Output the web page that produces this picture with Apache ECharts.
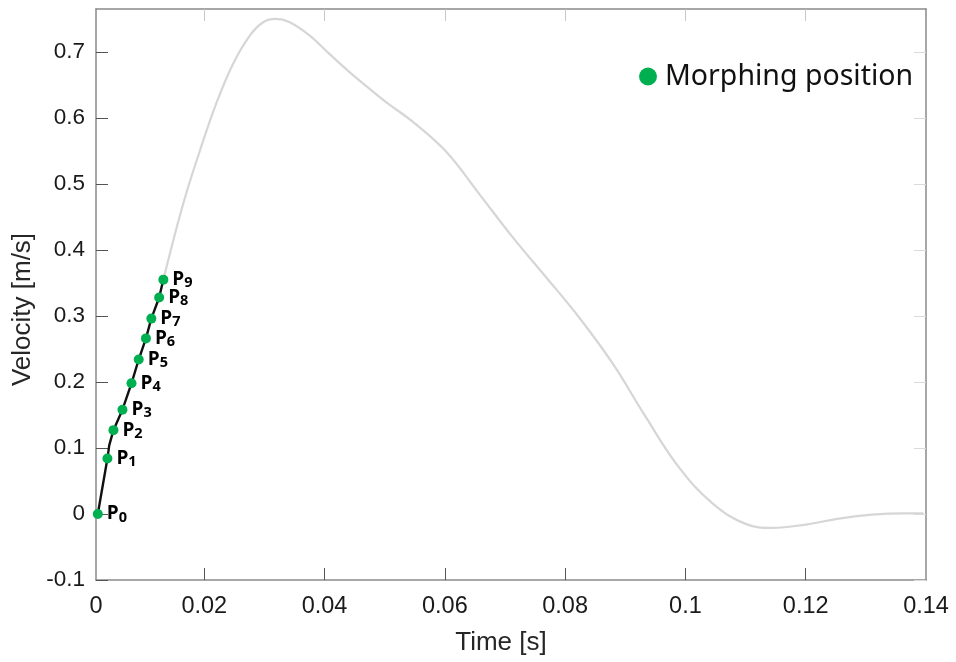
<!DOCTYPE html>
<html>
<head>
<meta charset="utf-8">
<script src="https://cdn.jsdelivr.net/npm/echarts@6/dist/echarts.min.js"></script>
<style>html,body{margin:0;padding:0;background:#fff;}#c{width:956px;height:662px;}</style>
</head>
<body>
<div id="c"></div>
<script>
// Morphing positions P0..P9 (time [s], velocity [m/s])
const pointNames = ['0','1','2','3','4','5','6','7','8','9'];
const pointTime = [0.0023, 0.0039, 0.0049, 0.0064, 0.0079, 0.0091, 0.0103, 0.0112, 0.0125, 0.0132];
const pointVel  = [0.000, 0.084, 0.127, 0.158, 0.198, 0.234, 0.266, 0.296, 0.328, 0.355];

// Black segment (start of motion up to P9)
const blackTime = [0.0023, 0.0039, 0.0042, 0.0049, 0.0064, 0.0079, 0.0091, 0.0103, 0.0112, 0.0125, 0.0132];
const blackVel  = [0.000, 0.084, 0.104, 0.127, 0.158, 0.198, 0.234, 0.266, 0.296, 0.328, 0.355];

// Full velocity profile after P9 (grey)
const greyTime = [0.0132, 0.0165, 0.0193, 0.0220, 0.0248, 0.0276, 0.0298, 0.0319, 0.0342, 0.0375,
  0.0408, 0.0442, 0.0475, 0.0508, 0.0547, 0.0602, 0.0657, 0.0713, 0.0768, 0.0823, 0.0879, 0.0934,
  0.0989, 0.1045, 0.1100, 0.1144, 0.1200, 0.1255, 0.1310, 0.1365, 0.1396];
const greyVel  = [0.355, 0.470, 0.551, 0.622, 0.682, 0.725, 0.745, 0.750, 0.745, 0.725,
  0.697, 0.669, 0.644, 0.620, 0.594, 0.549, 0.485, 0.419, 0.359, 0.298, 0.228, 0.147,
  0.071, 0.016, -0.015, -0.021, -0.016, -0.007, -0.001, 0.001, 0.001];

const xLabels = [0.002, 0.02, 0.04, 0.06, 0.08, 0.10, 0.12, 0.14];
const xTicks = [0.02, 0.04, 0.06, 0.08, 0.10, 0.12];
const yTicks = [-0.1, 0, 0.1, 0.2, 0.3, 0.4, 0.5, 0.6, 0.7];

const zip = (a, b) => a.map((v, i) => [v, b[i]]);
const fmt = v => String(+(+v).toFixed(3));

const chart = echarts.init(document.getElementById('c'), null, {renderer: 'canvas'});
const labelFont = 'Liberation Sans, Arial, sans-serif';
const frameColor = '#8a8a8a';

chart.setOption({
  animation: false,
  backgroundColor: '#ffffff',
  grid: {left: 96, right: 30, top: 9, bottom: 82, containLabel: false},
  legend: {
    data: ['Morphing position'],
    left: 634, top: 57,
    icon: 'circle', itemWidth: 18, itemHeight: 18, itemGap: 6,
    textStyle: {fontFamily: 'Noto Sans, Open Sans, sans-serif', fontSize: 28.5, color: '#111', padding: [0, 0, 0, 3]}
  },
  xAxis: [{
    type: 'value', min: 0.002, max: 0.14, position: 'bottom',
    name: 'Time [s]', nameLocation: 'middle', nameGap: 50,
    nameTextStyle: {fontFamily: labelFont, fontSize: 26, color: '#262626', padding: [0, 20, 0, 0]},
    axisLine: {show: true, onZero: false, lineStyle: {color: frameColor, width: 1.5}},
    axisTick: {show: true, inside: true, length: 12, customValues: xTicks, lineStyle: {color: '#555'}},
    axisLabel: {show: true, customValues: xLabels, margin: 15, fontFamily: labelFont, fontSize: 23.5, color: '#1a1a1a',
      formatter: v => (v < 0.01 ? '0' : fmt(v))},
    splitLine: {show: false}
  }, {
    type: 'value', min: 0.002, max: 0.14, position: 'top',
    axisLine: {show: true, onZero: false, lineStyle: {color: frameColor, width: 1.5}},
    axisTick: {show: true, inside: true, length: 12, customValues: xTicks, lineStyle: {color: '#c8c8c8'}},
    axisLabel: {show: false},
    splitLine: {show: false}
  }],
  yAxis: [{
    type: 'value', min: -0.1, max: 0.765, position: 'left',
    name: 'Velocity [m/s]', nameLocation: 'middle', nameGap: 59, nameRotate: 90,
    nameTextStyle: {fontFamily: labelFont, fontSize: 26, color: '#262626', padding: [0, 30, 0, 0]},
    axisLine: {show: true, onZero: false, lineStyle: {color: frameColor, width: 1.5}},
    axisTick: {show: true, inside: true, length: 12, customValues: yTicks, lineStyle: {color: '#555'}},
    axisLabel: {show: true, customValues: yTicks, margin: 11, fontFamily: labelFont, fontSize: 22.5, color: '#1a1a1a',
      formatter: v => fmt(v)},
    splitLine: {show: false}
  }, {
    type: 'value', min: -0.1, max: 0.765, position: 'right',
    axisLine: {show: true, onZero: false, lineStyle: {color: frameColor, width: 1.5}},
    axisTick: {show: true, inside: true, length: 12, customValues: yTicks, lineStyle: {color: '#dadada'}},
    axisLabel: {show: false},
    splitLine: {show: false}
  }],
  series: [{
    name: 'profile', type: 'line', xAxisIndex: 0, yAxisIndex: 0,
    data: zip(greyTime, greyVel), smooth: 0.4, showSymbol: false,
    lineStyle: {color: '#d6d6d6', width: 2.2}, z: 2, silent: true
  }, {
    name: 'start', type: 'line', xAxisIndex: 0, yAxisIndex: 0,
    data: zip(blackTime, blackVel), showSymbol: false,
    lineStyle: {color: '#111', width: 2.4}, z: 3, silent: true
  }, {
    name: 'Morphing position', type: 'scatter', xAxisIndex: 0, yAxisIndex: 0,
    data: pointTime.map((t, i) => ({value: [t, pointVel[i]], name: pointNames[i]})),
    symbol: 'circle', symbolSize: 10,
    itemStyle: {color: '#00b050', opacity: 1}, z: 5,
    label: {
      show: true, position: 'right', distance: 4,
      formatter: p => '{p|P}{s|' + p.name + '}',
      rich: {
        p: {fontFamily: 'Open Sans, Noto Sans, sans-serif', fontWeight: 'bold', fontSize: 19, color: '#000'},
        s: {fontFamily: 'Open Sans, Noto Sans, sans-serif', fontWeight: 'bold', fontSize: 14.5, color: '#000', padding: [7, 0, 0, 0]}
      }
    }
  }]
});
</script>
</body>
</html>
